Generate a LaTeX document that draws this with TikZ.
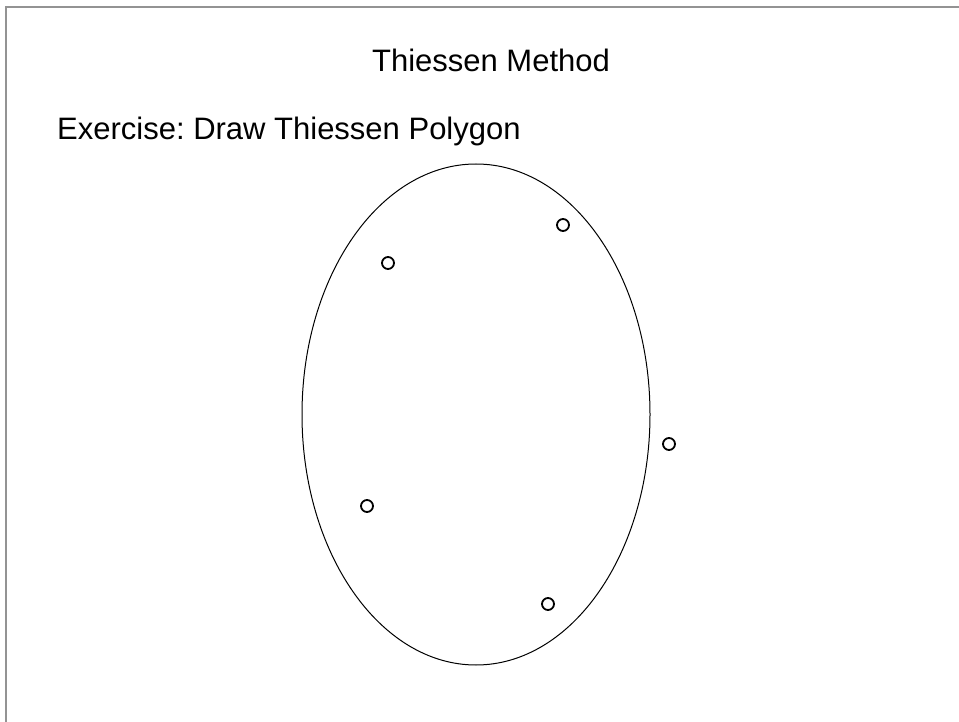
\documentclass[tikz,border=0pt]{standalone}
\usepackage{fontspec}
\setmainfont{Liberation Sans}
\usetikzlibrary{positioning}
\frenchspacing

\begin{document}
\begin{tikzpicture}[x=1pt,y=1pt,every node/.style={font=\fontsize{31}{36}\selectfont,inner sep=0pt},
  gauge/.style={draw,circle,line width=1.8pt,minimum size=12pt}]
\useasboundingbox (0,0) rectangle (959,-722);
\coordinate (c) at (6,-7);
\draw[gray!85,line width=2pt] (959,-7) -- (c) -- (6,-722);
\node[anchor=base] (title) at (491,-72) {Thiessen Method};
\node[anchor=base west] (ex) at (57,-140) {Exercise: Draw Thiessen Polygon};
\draw[line width=1pt] (476,-414.5) ellipse [x radius=174pt,y radius=250.5pt];
\node[gauge] (g1) at (388,-263) {};
\node[gauge] (g2) at (563,-225) {};
\node[gauge] (g3) at (669,-444) {};
\node[gauge] (g4) at (367,-506) {};
\node[gauge] (g5) at (548,-604) {};
\end{tikzpicture}
\end{document}
